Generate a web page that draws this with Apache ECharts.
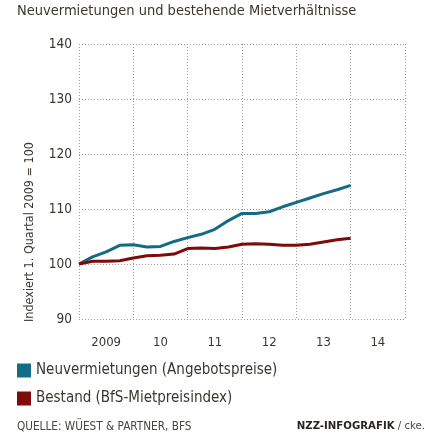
<!DOCTYPE html>
<html>
<head>
<meta charset="utf-8">
<script src="https://cdn.jsdelivr.net/npm/echarts@6/dist/echarts.min.js"></script>
<style>
html,body{margin:0;padding:0;background:#fff;}
#c{width:441px;height:439px;}
</style>
</head>
<body>
<div id="c"></div>
<script>
// Quarter index 0 = Q1 2009 ... 20 = Q1 2014
const quarters = [0,1,2,3,4,5,6,7,8,9,10,11,12,13,14,15,16,17,18,19,20];
const neuvermietungen = [100,101.3,102.2,103.4,103.5,103.1,103.2,104.1,104.8,105.4,106.3,107.9,109.2,109.2,109.5,110.4,111.2,112.0,112.8,113.5,114.3];
const bestand = [100,100.5,100.5,100.6,101.1,101.5,101.6,101.8,102.8,102.9,102.8,103.1,103.6,103.7,103.6,103.4,103.4,103.6,104.0,104.4,104.7];
const yearLabels = ['2009','10','11','12','13','14'];
const seriesNames = ['Neuvermietungen (Angebotspreise)','Bestand (BfS-Mietpreisindex)'];
const titleText = 'Neuvermietungen und bestehende Mietverhältnisse';
const yAxisTitle = 'Indexiert 1. Quartal 2009 = 100';
const sourceText = 'QUELLE: WÜEST & PARTNER, BFS';

const FONT = '"Liberation Sans Narrow","DejaVu Sans Condensed",sans-serif';
const TXT = '#3b3631';
const grid = {color:'#9a9a9a', type:[1,2]};

const chart = echarts.init(document.getElementById('c'), null, {renderer:'canvas'});
chart.setOption({
  animation:false,
  textStyle:{fontFamily:FONT},
  title:{text:titleText,left:17,top:4,padding:0,textStyle:{fontFamily:FONT,fontSize:14.5,fontWeight:'normal',color:TXT}},
  legend:{
    orient:'vertical',left:17,top:363,padding:0,itemWidth:14,itemHeight:14,itemGap:13,icon:'rect',
    textStyle:{fontFamily:FONT,fontSize:15,color:TXT},
    data:seriesNames
  },
  grid:{left:79,right:36,top:44,bottom:120},
  xAxis:[
    {type:'value',min:0,max:24,interval:4,
     axisLine:{show:false},axisTick:{show:false},axisLabel:{show:false},
     splitLine:{show:true,lineStyle:{color:grid.color,type:grid.type,width:1}}},
    {type:'category',data:yearLabels,position:'bottom',boundaryGap:true,
     axisLine:{show:false},axisTick:{show:false},splitLine:{show:false},
     axisLabel:{fontFamily:FONT,fontSize:13,color:TXT,margin:17}}
  ],
  yAxis:{type:'value',min:90,max:140,interval:10,
    axisLine:{show:false},axisTick:{show:false},
    axisLabel:{fontFamily:FONT,fontSize:13.5,color:TXT,margin:7},
    splitLine:{show:true,lineStyle:{color:grid.color,type:grid.type,width:1}}},
  graphic:[
    {type:'text',x:30,y:232,rotation:Math.PI/2,
     style:{text:yAxisTitle,fontFamily:FONT,fontSize:12.5,fill:TXT,align:'center',verticalAlign:'middle'}},
    {type:'text',left:17,top:421,style:{text:sourceText,fontFamily:FONT,fontSize:11.7,fill:'#4a4540'}},
    {type:'text',right:16,top:421,style:{
      text:'{b|NZZ-INFOGRAFIK}{n| / cke.}',
      rich:{b:{fontFamily:FONT,fontSize:11.3,fontWeight:'bold',fill:'#2a2622'},n:{fontFamily:FONT,fontSize:11.3,fill:'#4a4540'}}}}
  ],
  series:[
    {name:seriesNames[0],type:'line',xAxisIndex:0,symbol:'none',
     lineStyle:{width:3,color:'#136b85'},itemStyle:{color:'#136b85'},
     data:quarters.map((q,i)=>[q,neuvermietungen[i]])},
    {name:seriesNames[1],type:'line',xAxisIndex:0,symbol:'none',
     lineStyle:{width:3,color:'#7e0a0a'},itemStyle:{color:'#7e0a0a'},
     data:quarters.map((q,i)=>[q,bestand[i]])}
  ]
});
</script>
</body>
</html>
